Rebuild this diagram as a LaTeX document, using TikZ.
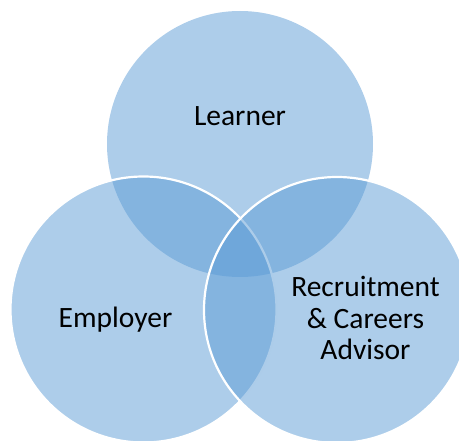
\documentclass[tikz,border=0pt]{standalone}
\usepackage{fontspec}
\setmainfont{Carlito}
\usepackage{tikz}

\definecolor{vennblue}{HTML}{5B9BD5}

\tikzset{
  venn/.style={circle, minimum size=266pt, inner sep=0pt, outer sep=0pt,
    fill=vennblue, fill opacity=0.5},
  vennline/.style={venn, draw=white, draw opacity=1, line width=2.2pt},
  venntext/.style={font=\fontsize{29.5}{31.5}\selectfont, align=center, inner sep=0pt}
}

\begin{document}
\begin{tikzpicture}[x=1pt, y=-1pt]
        \useasboundingbox [] (0,0) rectangle (459,441);

        \node [venn]     (learner)  at (240,144) {};          % top
        \node [vennline] (employer) at (143.5,309.5) {};      % left
        \node [vennline] (advisor)  at (337,310) {};          % right

        \node [venntext, anchor=base] (learnertxt)  at (240,126)   {Learner};
        \node [venntext, anchor=base] (employertxt) at (115.5,328) {Employer};
        \node [venntext, anchor=base] (advisortxt)  at (365.5,360)
              {Recruitment\\ \& Careers\\ Advisor};
      \end{tikzpicture}
\end{document}
